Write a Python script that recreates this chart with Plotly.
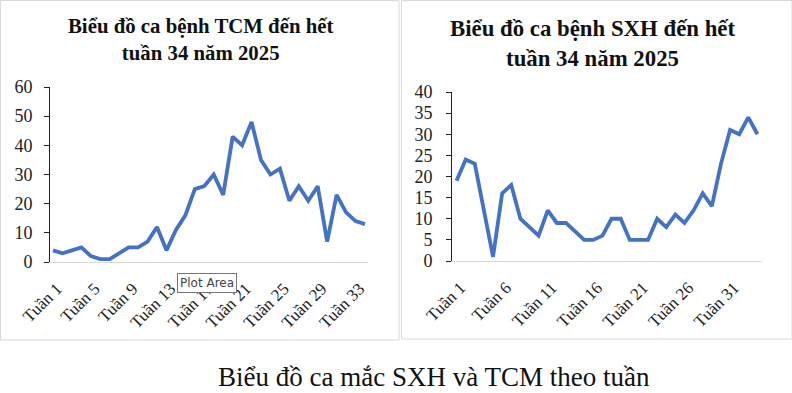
import plotly.graph_objects as go

W, H = 792, 393

weeks = [f"Tuần {i}" for i in range(1, 35)]
tcm_cases = [4, 3, 4, 5, 2, 1, 1, 3, 5, 5, 7, 12, 4, 11, 16, 25, 26, 30, 23, 43,
             40, 48, 35, 30, 32, 21, 26, 21, 26, 7, 23, 17, 14, 13]
sxh_cases = [19, 24, 23, 12, 1, 16, 18, 10, 8, 6, 12, 9, 9, 7, 5, 5, 6, 10, 10, 5,
             5, 5, 10, 8, 11, 9, 12, 16, 13, 23, 31, 30, 34, 30]
tcm_ticks = [weeks[i] for i in range(0, 34, 4)]
sxh_ticks = [weeks[i] for i in range(0, 34, 5)]

title_tcm = "Biểu đồ ca bệnh TCM đến hết<br>tuần 34 năm 2025"
title_sxh = "Biểu đồ ca bệnh SXH đến hết<br>tuần 34 năm 2025"
caption = "Biểu đồ ca mắc SXH và TCM theo tuần"

def px(x):
    return x / W

def py(y):
    return 1 - y / H

LINE = "#4472C4"
SERIF = "Liberation Serif, Times New Roman, serif"

fig = go.Figure()
fig.add_trace(go.Scatter(x=weeks, y=tcm_cases, mode="lines",
                         line=dict(color=LINE, width=3.8), xaxis="x", yaxis="y",
                         showlegend=False, hoverinfo="skip"))
fig.add_trace(go.Scatter(x=weeks, y=sxh_cases, mode="lines",
                         line=dict(color=LINE, width=3.8), xaxis="x2", yaxis="y2",
                         showlegend=False, hoverinfo="skip"))

xcommon = dict(type="category", categoryorder="array", categoryarray=weeks,
               tickangle=-45, tickfont=dict(family=SERIF, size=17, color="#222"),
               showgrid=False, zeroline=False, showline=True, linecolor="#d9d9d9",
               linewidth=1, ticks="", fixedrange=True, automargin=False,
               ticklabelstandoff=9, ticklabelshift=4)
ycommon = dict(showgrid=False, zeroline=False, showline=True, linecolor="#222",
               linewidth=1, ticks="outside", ticklen=5, tickcolor="#222",
               tickfont=dict(family=SERIF, size=18, color="#222"), fixedrange=True,
               automargin=False)

fig.update_layout(
    template="none",
    width=W, height=H,
    margin=dict(l=0, r=0, t=0, b=0, autoexpand=False),
    paper_bgcolor="white", plot_bgcolor="white",
    xaxis=dict(xcommon, domain=[px(50), px(368)], anchor="y",
               range=[-0.32, 33.32], tickvals=tcm_ticks, ticktext=tcm_ticks),
    yaxis=dict(ycommon, domain=[py(262), py(87)], anchor="x",
               range=[0, 60], dtick=10, ticklabelstandoff=8),
    xaxis2=dict(xcommon, domain=[px(452), px(762)], anchor="y2",
                range=[-0.5, 33.5], tickvals=sxh_ticks, ticktext=sxh_ticks),
    yaxis2=dict(ycommon, domain=[py(261), py(92)], anchor="x2",
                range=[0, 40], dtick=5, ticklabelstandoff=10),
    shapes=[
        dict(type="rect", xref="paper", yref="paper",
             x0=px(0.5), x1=px(399), y0=py(340), y1=py(0.5),
             line=dict(color="#d9d9d9", width=1)),
        dict(type="rect", xref="paper", yref="paper",
             x0=px(401.5), x1=px(792), y0=py(339), y1=py(0.5),
             line=dict(color="#d9d9d9", width=1)),
    ],
    annotations=[
        dict(text=f"<b>{title_tcm}</b>", x=px(200), y=py(39), xref="paper", yref="paper",
             showarrow=False, font=dict(family=SERIF, size=20.8, color="#111"),
             xanchor="center", yanchor="middle", align="center"),
        dict(text=f"<b>{title_sxh}</b>", x=px(592), y=py(43), xref="paper", yref="paper",
             showarrow=False, font=dict(family=SERIF, size=22.8, color="#111"),
             xanchor="center", yanchor="middle", align="center"),
        dict(text=caption, x=px(434), y=py(377), xref="paper", yref="paper",
             showarrow=False, font=dict(family=SERIF, size=27, color="#111"),
             xanchor="center", yanchor="middle"),
        dict(text="Plot Area", x=px(207), y=py(283), xref="paper", yref="paper",
             showarrow=False, font=dict(family="DejaVu Sans, sans-serif", size=12, color="#444"),
             xanchor="center", yanchor="middle", bgcolor="white",
             bordercolor="#767676", borderwidth=1, borderpad=2),
    ],
)

fig.write_html("out.html", config={"displayModeBar": False},
               post_script="document.body.style.margin='0';document.body.style.overflow='hidden';")
